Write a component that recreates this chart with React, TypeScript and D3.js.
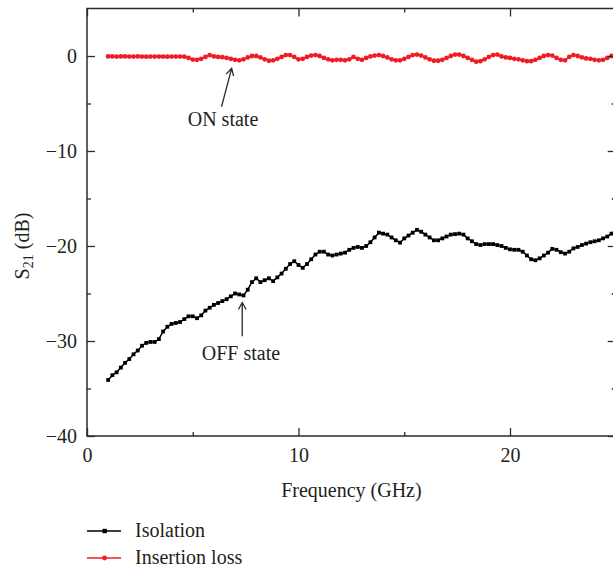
import { useEffect, useRef } from "react";
import * as d3 from "d3";

const WIDTH = 613;
const HEIGHT = 569;
const FONT = "'Liberation Serif', 'DejaVu Serif', serif";
const TEXT_COLOR = "#231f20";
const AXIS_COLOR = "#2b2b2b";

// frequency sweep (GHz)
const frequency = [
  1.0, 1.2, 1.4, 1.6, 1.8, 2.0, 2.2, 2.4, 2.6, 2.8, 3.0, 3.2, 3.4, 3.6, 3.8, 4.0, 4.2, 4.4, 4.6, 4.8,
  5.0, 5.2, 5.4, 5.6, 5.8, 6.0, 6.2, 6.4, 6.6, 6.8, 7.0, 7.2, 7.4, 7.6, 7.8, 8.0, 8.2, 8.4, 8.6, 8.8,
  9.0, 9.2, 9.4, 9.6, 9.8, 10.0, 10.2, 10.4, 10.6, 10.8, 11.0, 11.2, 11.4, 11.6, 11.8, 12.0, 12.2, 12.4, 12.6, 12.8,
  13.0, 13.2, 13.4, 13.6, 13.8, 14.0, 14.2, 14.4, 14.6, 14.8, 15.0, 15.2, 15.4, 15.6, 15.8, 16.0, 16.2, 16.4, 16.6, 16.8,
  17.0, 17.2, 17.4, 17.6, 17.8, 18.0, 18.2, 18.4, 18.6, 18.8, 19.0, 19.2, 19.4, 19.6, 19.8, 20.0, 20.2, 20.4, 20.6, 20.8,
  21.0, 21.2, 21.4, 21.6, 21.8, 22.0, 22.2, 22.4, 22.6, 22.8, 23.0, 23.2, 23.4, 23.6, 23.8, 24.0, 24.2, 24.4, 24.6, 24.8,
  25.0,
];

// OFF state (dB)
const isolation = [
  -34.1, -33.6, -33.3, -32.8, -32.3, -31.9, -31.4, -31.0, -30.5, -30.2, -30.1, -30.1, -29.8, -29.0, -28.5, -28.2, -28.1, -28.0, -27.7, -27.4,
  -27.4, -27.6, -27.3, -26.8, -26.5, -26.2, -26.0, -25.8, -25.6, -25.3, -25.0, -25.1, -25.2, -24.6, -23.8, -23.4, -23.8, -23.6, -23.4, -23.7,
  -23.3, -22.9, -22.4, -21.9, -21.6, -22.0, -22.3, -21.9, -21.4, -20.9, -20.6, -20.6, -20.9, -21.0, -20.9, -20.8, -20.7, -20.4, -20.2, -20.1,
  -20.2, -20.0, -19.6, -19.1, -18.6, -18.7, -18.8, -19.1, -19.4, -19.65, -19.2, -18.9, -18.6, -18.3, -18.5, -18.8, -19.1, -19.4, -19.4, -19.2,
  -19.0, -18.8, -18.75, -18.7, -18.8, -19.2, -19.5, -19.8, -19.9, -19.8, -19.8, -19.8, -19.9, -20.0, -20.2, -20.35, -20.4, -20.4, -20.6, -21.0,
  -21.4, -21.5, -21.3, -21.0, -20.7, -20.3, -20.4, -20.65, -20.8, -20.6, -20.25, -20.1, -19.9, -19.75, -19.6, -19.5, -19.4, -19.2, -19.0, -18.7,
  -18.3,
];

// ON state (dB)
const insertionLoss = [
  -0.05, -0.05, -0.06, -0.05, -0.05, -0.06, -0.06, -0.05, -0.06, -0.07, -0.06, -0.06, -0.06, -0.06, -0.07, -0.06, -0.06, -0.06, -0.07, -0.2,
  -0.38, -0.4, -0.3, -0.1, 0.1, -0.05, -0.1, -0.12, -0.2, -0.3, -0.4, -0.45, -0.35, -0.15, 0.0, 0.0, -0.15, -0.35, -0.5, -0.45,
  -0.3, -0.1, 0.1, 0.1, -0.1, -0.35, -0.3, -0.1, 0.05, 0.1, 0.0, -0.2, -0.35, -0.45, -0.4, -0.4, -0.45, -0.35, -0.1, -0.3,
  -0.4, -0.2, -0.05, 0.05, 0.1, 0.0, -0.15, -0.35, -0.45, -0.45, -0.3, -0.1, 0.1, 0.15, 0.05, -0.15, -0.35, -0.5, -0.5, -0.4,
  -0.2, 0.0, 0.15, 0.15, 0.0, -0.2, -0.4, -0.6, -0.55, -0.35, -0.1, 0.1, 0.15, -0.05, -0.15, -0.2, -0.3, -0.35, -0.45, -0.55,
  -0.55, -0.4, -0.2, 0.0, 0.1, 0.05, -0.2, -0.4, -0.45, -0.1, 0.1, 0.0, -0.15, -0.25, -0.3, -0.4, -0.45, -0.4, -0.2, 0.0,
  0.1,
];

const xMajor = [0, 10, 20];
const xMinor = [5, 15, 25];
const yMajor = [0, -10, -20, -30, -40];
const yMinor = [-5, -15, -25, -35];

const series = [
  { name: "Isolation", values: isolation, color: "#000000", marker: "square" },
  { name: "Insertion loss", values: insertionLoss, color: "#ee1c25", marker: "circle" },
];

export default function App() {
  const axesRef = useRef<SVGGElement>(null);

  const xScale = d3.scaleLinear().domain([0, 25]).range([87, 615.75]);
  const yScale = d3.scaleLinear().domain([-40, 5]).range([436, 8.5]);

  useEffect(() => {
    const svgElement = d3.select(axesRef.current);
    svgElement.selectAll("*").remove();
    const style = (sel: any) => {
      sel.select(".domain").remove();
      sel.selectAll("line").attr("stroke", AXIS_COLOR).attr("stroke-width", 1.3);
      sel.selectAll("text").attr("font-family", FONT).attr("font-size", 20).attr("fill", TEXT_COLOR);
    };
    const fmt = d3.format("d");
    const bottom = `translate(0,${yScale(-40)})`;
    const top = `translate(0,${yScale(5)})`;
    const left = `translate(${xScale(0)},0)`;
    const right = `translate(${xScale(25)},0)`;

    svgElement.append("g").attr("transform", bottom)
      .call(d3.axisBottom(xScale).tickValues(xMajor).tickSizeInner(-8).tickSizeOuter(0).tickPadding(12).tickFormat(fmt as any))
      .call(style);
    svgElement.append("g").attr("transform", bottom)
      .call(d3.axisBottom(xScale).tickValues(xMinor).tickSizeInner(-4).tickSizeOuter(0).tickFormat(() => ""))
      .call(style);
    svgElement.append("g").attr("transform", top)
      .call(d3.axisTop(xScale).tickValues(xMajor).tickSizeInner(-8).tickSizeOuter(0).tickFormat(() => ""))
      .call(style);
    svgElement.append("g").attr("transform", top)
      .call(d3.axisTop(xScale).tickValues(xMinor).tickSizeInner(-4).tickSizeOuter(0).tickFormat(() => ""))
      .call(style);

    svgElement.append("g").attr("transform", left)
      .call(d3.axisLeft(yScale).tickValues(yMajor).tickSizeInner(-8).tickSizeOuter(0).tickPadding(10).tickFormat(fmt as any))
      .call(style);
    svgElement.append("g").attr("transform", left)
      .call(d3.axisLeft(yScale).tickValues(yMinor).tickSizeInner(-4).tickSizeOuter(0).tickFormat(() => ""))
      .call(style);
    svgElement.append("g").attr("transform", right)
      .call(d3.axisRight(yScale).tickValues(yMajor).tickSizeInner(-8).tickSizeOuter(0).tickFormat(() => ""))
      .call(style);
    svgElement.append("g").attr("transform", right)
      .call(d3.axisRight(yScale).tickValues(yMinor).tickSizeInner(-4).tickSizeOuter(0).tickFormat(() => ""))
      .call(style);
  }, []);

  const line = d3
    .line<number>()
    .x((_, i) => xScale(frequency[i]))
    .y((d) => yScale(d));

  // annotation arrows (data units)
  const arrow = (f0: number, v0: number, f1: number, v1: number) => {
    const x0 = xScale(f0), y0 = yScale(v0), x1 = xScale(f1), y1 = yScale(v1);
    const a = Math.atan2(y1 - y0, x1 - x0);
    const L = 8, w = 0.5;
    const h1 = [x1 - L * Math.cos(a - w), y1 - L * Math.sin(a - w)];
    const h2 = [x1 - L * Math.cos(a + w), y1 - L * Math.sin(a + w)];
    return `M${x0},${y0}L${x1},${y1}M${h1[0]},${h1[1]}L${x1},${y1}L${h2[0]},${h2[1]}`;
  };

  return (
    <svg width={WIDTH} height={HEIGHT} style={{ position: "absolute", left: 0, top: 0, background: "#fff" }}>
      {series.map((s) => (
        <g key={s.name}>
          <path d={line(s.values) || ""} fill="none" stroke={s.color} strokeWidth={1.5} />
          {s.values.map((v, i) =>
            s.marker === "square" ? (
              <rect key={i} x={xScale(frequency[i]) - 1.9} y={yScale(v) - 1.9} width={3.8} height={3.8} fill={s.color} />
            ) : (
              <circle key={i} cx={xScale(frequency[i])} cy={yScale(v)} r={2.4} fill={s.color} />
            )
          )}
        </g>
      ))}

      <rect
        x={xScale(0)}
        y={yScale(5)}
        width={xScale(25) - xScale(0)}
        height={yScale(-40) - yScale(5)}
        fill="none"
        stroke={AXIS_COLOR}
        strokeWidth={1.5}
      />
      <g ref={axesRef} />

      {/* annotations */}
      <path d={arrow(6.36, -5.34, 6.84, -1.3)} fill="none" stroke={AXIS_COLOR} strokeWidth={1.3} />
      <text x={xScale(6.43)} y={yScale(-7.42)} textAnchor="middle" fontFamily={FONT} fontSize={20} fill={TEXT_COLOR}>
        ON state
      </text>
      <path d={arrow(7.34, -29.5, 7.34, -25.95)} fill="none" stroke={AXIS_COLOR} strokeWidth={1.3} />
      <text x={xScale(7.28)} y={yScale(-31.95)} textAnchor="middle" fontFamily={FONT} fontSize={20} fill={TEXT_COLOR}>
        OFF state
      </text>

      {/* axis titles */}
      <text x={xScale(12.5)} y={497} textAnchor="middle" fontFamily={FONT} fontSize={20} fill={TEXT_COLOR}>
        Frequency (GHz)
      </text>
      <text transform="rotate(-90)" x={-yScale(-20)} y={29} textAnchor="middle" fontFamily={FONT} fontSize={20} fill={TEXT_COLOR}>
        S<tspan fontSize={14} dy={4}>21</tspan>
        <tspan dy={-4}> (dB)</tspan>
      </text>

      {/* legend */}
      {series.map((s, i) => (
        <g key={s.name} transform={`translate(87,${531 + i * 27})`}>
          <line x1={0} x2={34} y1={0} y2={0} stroke={s.color} strokeWidth={1.5} />
          {s.marker === "square" ? (
            <rect x={15.5} y={-2.2} width={4.4} height={4.4} fill={s.color} />
          ) : (
            <circle cx={17.5} cy={0} r={2.4} fill={s.color} />
          )}
          <text x={48} y={6} fontFamily={FONT} fontSize={20} fill={TEXT_COLOR}>
            {s.name}
          </text>
        </g>
      ))}
    </svg>
  );
}
